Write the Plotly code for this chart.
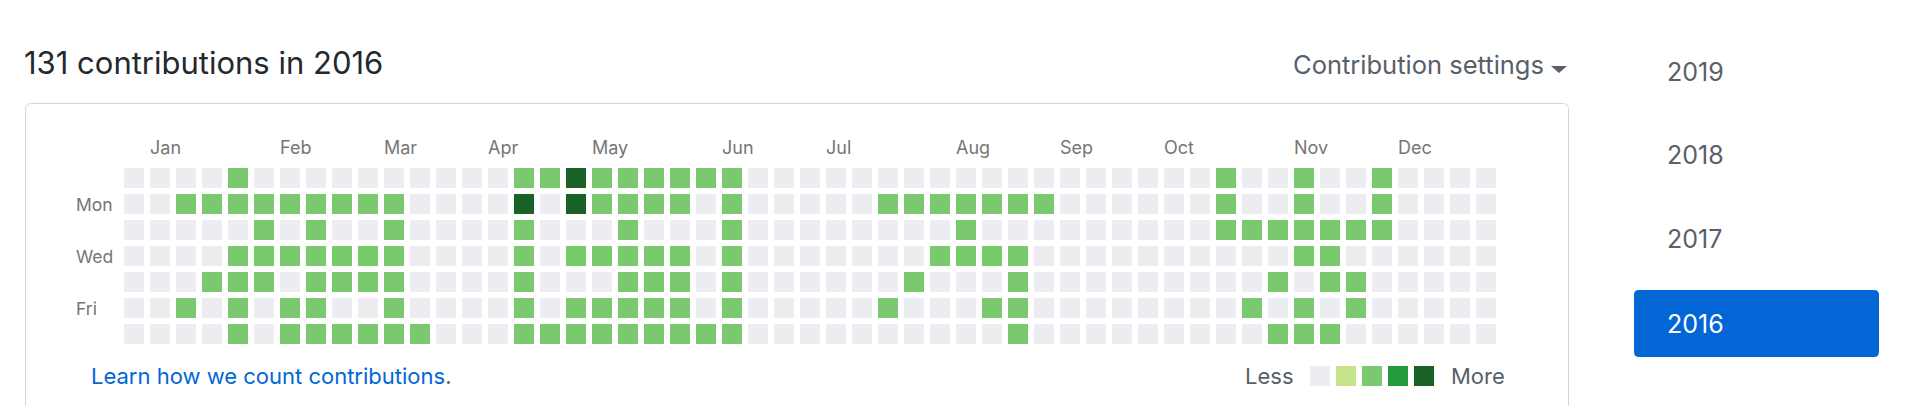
import plotly.graph_objects as go

# page body has an 8px margin, so the figure is placed at (8, 8) in the window
OFF = 8
W, H = 1924 - 2 * OFF, 414 - 2 * OFF

# ---- data ----
weekdays = ["Sun", "Mon", "Tue", "Wed", "Thu", "Fri", "Sat"]
# contribution level per week column (0..52), one string per weekday row
row_sun = "0000200000" "0000022422" "2222000000" "0000000000" "0020020020" "000"
row_mon = "0022222222" "2000040422" "2202000002" "2222220000" "0020020020" "000"
row_tue = "0000020200" "2000020002" "0002000000" "0020000000" "0022222220" "000"
row_wed = "0000222222" "2000020222" "2202000000" "0222200000" "0000022000" "000"
row_thu = "0002220222" "2000020002" "2202000000" "2000200000" "0000202200" "000"
row_fri = "0020202200" "2000020222" "2202000002" "0002200000" "0002020200" "000"
row_sat = "0000202222" "2200022222" "2222000000" "0000200000" "0000222000" "000"
rows = [row_sun, row_mon, row_tue, row_wed, row_thu, row_fri, row_sat]

month_names = ["Jan", "Feb", "Mar", "Apr", "May", "Jun", "Jul", "Aug", "Sep", "Oct", "Nov", "Dec"]
month_week = [1, 6, 10, 14, 18, 23, 27, 32, 36, 40, 45, 49]
day_labels = ["Mon", "Wed", "Fri"]
day_label_rows = [1, 3, 5]
legend_levels = [0, 1, 2, 3, 4]
years = ["2019", "2018", "2017", "2016"]
selected_year = "2016"
total = 131

level_colors = ["#ebedf0", "#c6e48b", "#7bc96f", "#239a3b", "#196127"]

# ---- helpers (window pixel -> paper) ----
def px(x):
    return (x - OFF) / W

def py(y):
    return 1 - (y - OFF) / H

def rrect(x0, y0, x1, y1, r):
    pts = [
        f"M{px(x0 + r)},{py(y0)}",
        f"L{px(x1 - r)},{py(y0)}",
        f"Q{px(x1)},{py(y0)} {px(x1)},{py(y0 + r)}",
        f"L{px(x1)},{py(y1 - r)}",
        f"Q{px(x1)},{py(y1)} {px(x1 - r)},{py(y1)}",
        f"L{px(x0 + r)},{py(y1)}",
        f"Q{px(x0)},{py(y1)} {px(x0)},{py(y1 - r)}",
        f"L{px(x0)},{py(y0 + r)}",
        f"Q{px(x0)},{py(y0)} {px(x0 + r)},{py(y0)}",
        "Z",
    ]
    return " ".join(pts)

cs = []
for i, c in enumerate(level_colors):
    lo = max(0, (i - 0.5) / 4)
    hi = min(1, (i + 0.5) / 4)
    cs += [[lo, c], [hi, c]]

FONT = "Inter, Roboto, Liberation Sans, sans-serif"

z = [[int(ch) for ch in r] for r in rows]
nweeks = len(rows[0])

fig = go.Figure()
fig.add_trace(go.Heatmap(
    z=z, x=list(range(nweeks)), y=list(range(7)),
    colorscale=cs, zmin=0, zmax=4, showscale=False,
    xgap=6, ygap=6, hoverinfo="skip", xaxis="x", yaxis="y",
))
fig.add_trace(go.Heatmap(
    z=[legend_levels], x=list(range(len(legend_levels))), y=[0],
    colorscale=cs, zmin=0, zmax=4, showscale=False,
    xgap=6, ygap=6, hoverinfo="skip", xaxis="x2", yaxis="y2",
))

grid_x0, grid_y0, pitch = 121, 165, 26
fig.update_layout(
    width=W, height=H, margin=dict(l=0, r=0, t=0, b=0),
    paper_bgcolor="white", plot_bgcolor="white",
    showlegend=False,
    xaxis=dict(domain=[px(grid_x0), px(grid_x0 + pitch * nweeks)], range=[-0.5, nweeks - 0.5],
               visible=False, fixedrange=True),
    yaxis=dict(domain=[py(grid_y0 + pitch * 7), py(grid_y0)], range=[6.5, -0.5],
               visible=False, fixedrange=True),
    xaxis2=dict(domain=[px(1307), px(1307 + pitch * 5)], range=[-0.5, 4.5],
                visible=False, fixedrange=True, anchor="y2"),
    yaxis2=dict(domain=[py(363 + pitch), py(363)], range=[0.5, -0.5],
                visible=False, fixedrange=True, anchor="x2"),
)

shapes = []
# outer box
shapes.append(dict(type="path", xref="paper", yref="paper",
                   path=rrect(25.5, 103.5, 1568.5, 440, 6),
                   line=dict(color="#d1d5da", width=1), fillcolor="rgba(0,0,0,0)", layer="below"))
# selected year button
shapes.append(dict(type="path", xref="paper", yref="paper",
                   path=rrect(1634, 290, 1879, 357, 5),
                   line=dict(width=0), fillcolor="#0366d6", layer="below"))
# dropdown caret
shapes.append(dict(type="path", xref="paper", yref="paper",
                   path=f"M{px(1551)},{py(66)} L{px(1567)},{py(66)} L{px(1559)},{py(73)} Z",
                   line=dict(width=0), fillcolor="#586069"))
fig.update_layout(shapes=shapes)

ann = []

def text(x, baseline, s, size, color, anchor="left", xref="paper", xval=None):
    center = baseline - 0.364 * size
    ann.append(dict(
        x=xval if xval is not None else px(x), xref=xref,
        y=py(center), yref="paper",
        text=s, showarrow=False, xanchor=anchor, yanchor="middle",
        font=dict(family=FONT, size=size, color=color),
    ))

text(22, 74, f"{total} contributions in {selected_year}", 31, "#24292e")
text(1291, 73.5, "Contribution settings", 25.5, "#586069")

year_baselines = [80.7, 164.3, 248.3, 332.7]
for yr, b in zip(years, year_baselines):
    text(1665, b, yr, 25, "white" if yr == selected_year else "#586069")

for name, wk in zip(month_names, month_week):
    text(None, 154.3, name, 18, "#767676", xref="x", xval=wk - 0.5 + 0.5 / pitch)

for lbl, r in zip(day_labels, day_label_rows):
    text(74, grid_y0 + 3 + pitch * r + 10 + 6.5, lbl, 17.5, "#767676")

text(89, 384.3, "Learn how we count contributions<span style='color:#586069'>.</span>", 22, "#0366d6")
text(1243, 384, "Less", 22, "#586069")
text(1449, 384, "More", 22, "#586069")

fig.update_layout(annotations=ann)
fig.write_html("out.html")
